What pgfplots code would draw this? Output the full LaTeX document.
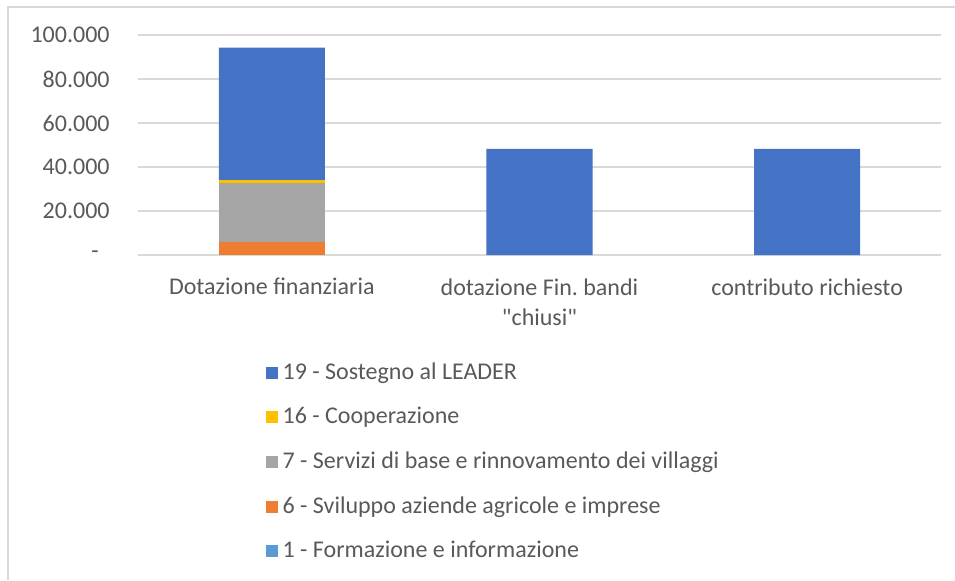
\documentclass[border=0pt]{standalone}
\usepackage{pgfplots}
\pgfplotsset{compat=1.18}
\usepackage{fontspec}
\setmainfont{Carlito}[Ligatures=TeXOff]
\frenchspacing
\definecolor{txt}{HTML}{595959}
\definecolor{gridc}{HTML}{D9D9D9}
\definecolor{c19}{HTML}{4472C4}
\definecolor{c16}{HTML}{FFC000}
\definecolor{c7}{HTML}{A5A5A5}
\definecolor{c6}{HTML}{ED7D31}
\definecolor{c1}{HTML}{5B9BD5}
\begin{document}
\fontsize{12}{15}\selectfont
\begin{tikzpicture}
\useasboundingbox (0,0) rectangle (477.5pt,290pt);
\draw[color=gridc, line width=1pt] (4pt,0) -- (4pt,286.5pt) -- (477.5pt,286.5pt);
\begin{axis}[
  at={(69pt,162.5pt)}, anchor=south west,
  scale only axis, width=401.5pt, height=110pt,
  ybar stacked, bar width=53pt,
  xmin=-0.5, xmax=2.5, ymin=0, ymax=100000,
  xtick={0,1,2},
  xticklabels={Dotazione finanziaria,{dotazione Fin.\ bandi\\"chiusi"},contributo richiesto},
  xticklabel style={align=center, yshift=-7.5pt, text=txt, font=\fontsize{12}{15}\selectfont},
  ytick={0,20000,40000,60000,80000,100000},
  yticklabels={{-\kern 5.5pt},20.000,40.000,60.000,80.000,100.000},
  scaled y ticks=false,
  yticklabel style={xshift=-10pt, text=txt, font=\fontsize{12}{15}\selectfont},
  major tick length=0pt,
  ymajorgrids, grid style={gridc, line width=0.6pt},
  axis line style={draw=none},
  reverse legend,
  legend style={at={(0.1584,-0.469)}, anchor=north west, draw=none, fill=none,
    inner sep=0pt, row sep=8.2pt, font=\fontsize{12}{15}\selectfont, text=txt},
  legend cell align=left,
  legend image code/.code={\fill[#1] (0pt,-3pt) rectangle (6pt,3pt);},
  /tikz/every odd column/.append style={column sep=0.5pt},
]
\addplot[fill=c1, draw=none] coordinates {(0,0) (1,0) (2,0)};
\addplot[fill=c6, draw=none] coordinates {(0,5900) (1,0) (2,0)};
\addplot[fill=c7, draw=none] coordinates {(0,26900) (1,0) (2,0)};
\addplot[fill=c16, draw=none] coordinates {(0,1250) (1,0) (2,0)};
\addplot[fill=c19, draw=none] coordinates {(0,60200) (1,48200) (2,48200)};
\legend{1 - Formazione e informazione,6 - Sviluppo aziende agricole e imprese,7 - Servizi di base e rinnovamento dei villaggi,16 - Cooperazione,19 - Sostegno al LEADER}
\end{axis}
\end{tikzpicture}
\end{document}
